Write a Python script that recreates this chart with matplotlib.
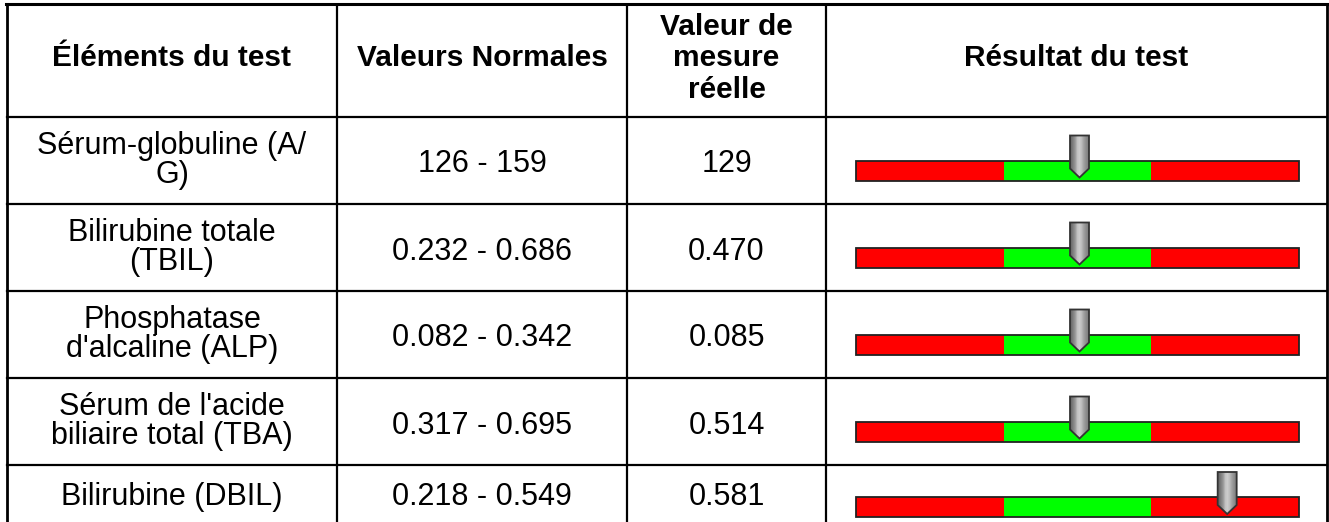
import matplotlib.pyplot as plt
import numpy as np
from matplotlib.patches import Rectangle, Polygon

plt.rcParams['font.family'] = ['Liberation Sans', 'DejaVu Sans']

# ---------------- data ----------------
headers = ["Éléments du test", "Valeurs Normales", "Valeur de\nmesure\nréelle", "Résultat du test"]
items = ["Sérum-globuline (A/\nG)", "Bilirubine totale\n(TBIL)", "Phosphatase\nd'alcaline (ALP)",
         "Sérum de l'acide\nbiliaire total (TBA)", "Bilirubine (DBIL)"]
low = [126, 0.232, 0.082, 0.317, 0.218]
high = [159, 0.686, 0.342, 0.695, 0.549]
measured = [129, 0.470, 0.085, 0.514, 0.581]
decimals = [0, 3, 3, 3, 3]

# ---------------- layout (pixels) ----------------
W, H = 1329, 522
col_x = [7, 337, 627, 826, 1327]
top = 4
head_bot = 117
fs_head = 21.5
fs_body = 22

fig = plt.figure(figsize=(W / 100, H / 100), dpi=100)
ax = fig.add_axes([0, 0, 1, 1])
ax.set_xlim(0, W)
ax.set_ylim(H, 0)
ax.axis('off')

# row heights: two-line rows are taller
row_tops = []
row_hs = []
y = head_bot
for it in items:
    h = 87 if '\n' in it else 64
    row_tops.append(y)
    row_hs.append(h)
    y += h

lw = 1.6
for k, x in enumerate(col_x):
    ax.plot([x, x], [top - 1, H + 5], color='black',
            lw=2.0 if k in (0, len(col_x) - 1) else lw, solid_capstyle='butt')
ax.plot([col_x[0] - 1, col_x[-1] + 1], [top, top], color='black', lw=2.2)
ax.plot([col_x[0], col_x[-1]], [head_bot, head_bot], color='black', lw=lw)
for yt in row_tops[1:]:
    ax.plot([col_x[0], col_x[-1]], [yt, yt], color='black', lw=lw)

# header
for j, h in enumerate(headers):
    cx = (col_x[j] + col_x[j + 1]) / 2
    ax.text(cx, (top + head_bot) / 2 - 2, h, ha='center', va='center', fontsize=fs_head,
            fontweight='bold', linespacing=1.15)

# rows
bar_x0, bar_x1 = 856, 1299
seg_w = (bar_x1 - bar_x0) / 3
bar_h = 20
grad = np.array([[0.42, 0.50, 0.60, 0.76, 0.80, 0.74, 0.64, 0.56, 0.50]])

for i in range(len(items)):
    y0 = row_tops[i]
    rh = row_hs[i]
    cy = y0 + rh / 2
    vy = cy + (4 if '\n' in items[i] else 0)
    ax.text((col_x[0] + col_x[1]) / 2, cy, items[i], ha='center', va='center',
            fontsize=fs_body, linespacing=0.97)
    rng = f"{low[i]:.{decimals[i]}f} - {high[i]:.{decimals[i]}f}"
    ax.text((col_x[1] + col_x[2]) / 2, vy, rng, ha='center', va='center', fontsize=fs_body)
    ax.text((col_x[2] + col_x[3]) / 2, vy, f"{measured[i]:.{decimals[i]}f}",
            ha='center', va='center', fontsize=fs_body)

    # gauge bar
    by = y0 + (rh - bar_h) / 2 + 10
    for k, c in enumerate(['#ff0000', '#00ff00', '#ff0000']):
        ax.add_patch(Rectangle((bar_x0 + k * seg_w, by), seg_w, bar_h, facecolor=c,
                               edgecolor='none', zorder=2))
    ax.add_patch(Rectangle((bar_x0, by), bar_x1 - bar_x0, bar_h, facecolor='none',
                           edgecolor='#222222', lw=1.3, zorder=3))

    # pointer position from status
    if measured[i] < low[i]:
        status = 0
    elif measured[i] > high[i]:
        status = 2
    else:
        status = 1
    px = bar_x0 + (status + 0.5) * seg_w + 2
    pw = 19
    ptop = by - 25
    pmid = by + 8
    ptip = by + 17
    verts = [(px - pw / 2, ptop), (px + pw / 2, ptop), (px + pw / 2, pmid),
             (px, ptip), (px - pw / 2, pmid)]
    poly = Polygon(verts, closed=True, facecolor='none', edgecolor='#333333', lw=1.3, zorder=5)
    ax.add_patch(poly)
    im = ax.imshow(grad, cmap='gray', vmin=0, vmax=1, aspect='auto',
                   extent=(px - pw / 2, px + pw / 2, ptip, ptop), zorder=4,
                   interpolation='bilinear')
    im.set_clip_path(Polygon(verts, closed=True, transform=ax.transData))

ax.set_xlim(0, W)
ax.set_ylim(H, 0)
fig.savefig('out.png', dpi=100)
